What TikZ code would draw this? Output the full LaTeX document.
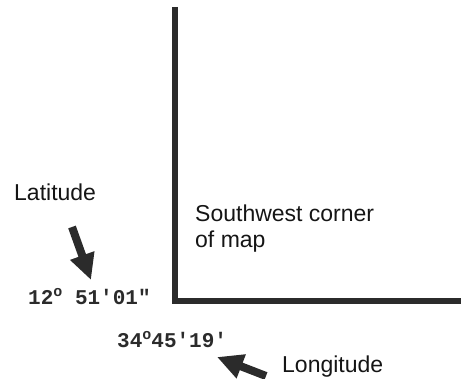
\documentclass[tikz,border=0pt]{standalone}
\usepackage{fontspec}
\setmainfont{Liberation Sans}
\setmonofont{Liberation Mono}
\usepackage{tikz}
\usetikzlibrary{arrows.meta,positioning}
\definecolor{MapInk}{HTML}{2B2B2B}
\definecolor{MapText}{HTML}{151515}
\newcommand{\degmark}{\raisebox{0.42em}{\fontsize{15}{15}\selectfont o}}

\begin{document}
\begin{tikzpicture}[
  x=1pt, y=-1pt,
  word/.style={font=\fontsize{23}{26}\selectfont, text=MapText, inner sep=0pt, anchor=base west},
  coord/.style={font=\ttfamily\bfseries\fontsize{21}{24}\selectfont, text=MapInk, inner sep=0pt, anchor=base west},
  edge/.style={line width=6pt, draw=MapInk, miter limit=4},
  pointer/.style={-{Triangle[length=26pt,width=24pt]}, line width=8pt, draw=MapInk}
]
  \useasboundingbox (0,0) rectangle (461,379);
  % corner of the map
  \coordinate (top) at (175,7);
  \coordinate (corner) at (175,301);
  \coordinate (east) at (461,301);
  \draw[edge] (top) -- (corner) -- (east);
  \node[word] (sw) at (195,222) {Southwest corner};
  \node[word, below=26pt of sw.base west, anchor=base west] (map) {of map};
  % readings at the corner
  \node[coord] (lat) at (28,305) {12\degmark\ 51'01"};
  \node[coord] (lon) at (117,348) {34\degmark45'19'};
  \node[word] (latname) at (14,201) {Latitude};
  \node[word] (lonname) at (282,373) {Longitude};
  \coordinate (latfrom) at (72,227);
  \coordinate (latto) at (91,280);
  \coordinate (lonfrom) at (266,376);
  \coordinate (lonto) at (217,357);
  \draw[pointer] (latfrom) -- (latto);
  \draw[pointer] (lonfrom) -- (lonto);
\end{tikzpicture}
\end{document}
